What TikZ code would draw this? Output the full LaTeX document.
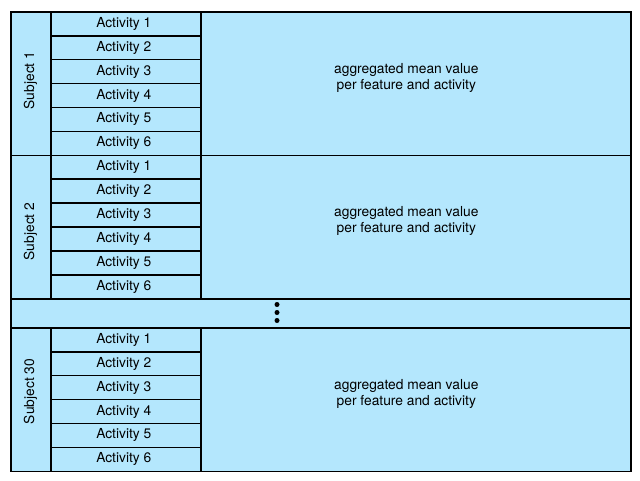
\documentclass[tikz,border=0pt]{standalone}
\usepackage{fontspec}
\setmainfont{TeX Gyre Heros}
\usetikzlibrary{calc}
\definecolor{cellblue}{RGB}{180,231,253}
\begin{document}
\begin{tikzpicture}[x=1pt,y=-1pt,
  cell/.style={draw=black, line width=1.6pt, fill=cellblue, inner sep=0pt, anchor=north west},
  txt/.style={font=\fontsize{13.8}{16}\selectfont, inner sep=0pt},
  dot/.style={circle, fill=black, inner sep=0pt, minimum size=5pt}]
\useasboundingbox (0,0) rectangle (640,480);
\foreach \t/\s/\ly [count=\b] in {11/1/80.5, 154.5/2/231.5, 327/30/391.5} {
  \node[cell, minimum width=40pt, minimum height=143.5pt] (s\b) at (10,\t) {};
  \node[txt, rotate=90] (sl\b) at (30.5,\ly) {Subject \s};
  \node[cell, minimum width=430pt, minimum height=143.5pt] (v\b) at (200,\t) {};
  \node[txt, align=center] (vl\b) at ($(v\b.center)+(-9.5,-6)$) {aggregated mean value\\per feature and activity};
  \foreach \r in {1,...,6} {
    \node[cell, minimum width=150pt, minimum height=23.92pt, inner sep=0pt] (a\b\r) at (50,{\t+(\r-1)*23.92}) {};
    \node[txt] (al\b\r) at ($(a\b\r.center)+(-2,0)$) {Activity \r};
  }
}
\node[cell, minimum width=620pt, minimum height=28.5pt] (gap) at (10,298.5) {};
\node[dot] (d1) at (277,304.5) {};
\node[dot] (d2) at (277,312.5) {};
\node[dot] (d3) at (277,320.5) {};
\end{tikzpicture}
\end{document}
